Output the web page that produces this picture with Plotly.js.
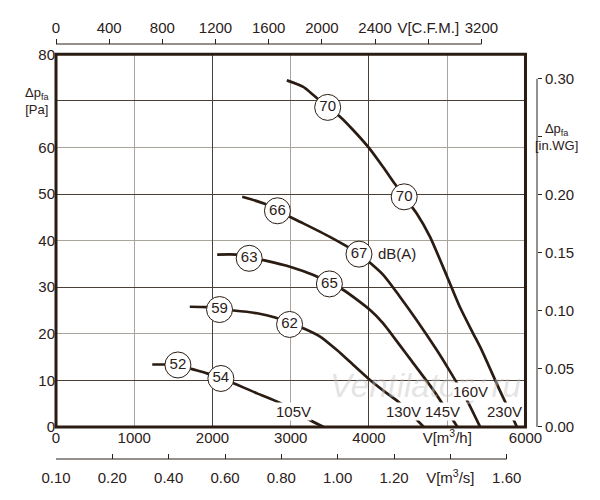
<!DOCTYPE html>
<html>
<head>
<meta charset="utf-8">
<script src="https://cdn.plot.ly/plotly-3.0.1.min.js"></script>
<style>html,body{margin:0;padding:0;background:#fff;}#chart{width:600px;height:500px;}</style>
</head>
<body>
<div id="chart"></div>
<script>
// ---- data (flow in m³/h, pressure in Pa) ----
const c105x = [1230, 1400, 1560, 1740, 1930, 2110, 2270, 2570, 2870, 3230, 3420];
const c105y = [13.4, 13.4, 13.3, 12.4, 11.5, 10.4, 9.4, 7.2, 5.1, 1.6, 0];
const c130x = [1710, 1930, 2090, 2270, 2570, 2800, 3160, 3375, 3590, 3800, 4005, 4230, 4375, 4700];
const c130y = [25.8, 25.7, 25.2, 25.0, 24.4, 23.5, 21.2, 19.4, 16.5, 13.3, 10.2, 7.2, 5.4, 0];
const c145x = [2060, 2310, 2650, 2990, 3290, 3673, 4014, 4184, 4400, 4525, 4823, 5130];
const c145y = [37.0, 37.0, 35.8, 34.4, 32.6, 29.4, 25.1, 22.2, 17.4, 14.6, 7.9, 0];
const c160x = [2380, 2650, 2830, 3160, 3500, 3877, 4184, 4397, 4610, 4866, 5000, 5100, 5250, 5420];
const c160y = [49.4, 48.0, 46.4, 43.7, 40.8, 37.1, 32.6, 27.9, 22.9, 16.5, 12.9, 10.1, 5.8, 0];
const c230x = [2950, 3160, 3470, 3630, 3800, 4000, 4180, 4330, 4450, 4610, 4780, 5000, 5160, 5330, 5440, 5670, 5760, 5890];
const c230y = [74.4, 73.0, 68.6, 66.6, 63.7, 59.9, 55.8, 52.2, 49.4, 45.8, 40.8, 32.2, 25.8, 20.1, 16.5, 7.9, 4.7, 0];

// sound level labels on curves, dB(A)
const dbLabels = ['52', '54', '59', '62', '63', '65', '66', '67', '70', '70'];
const dbX = [1558, 2107, 2090, 2985, 2469, 3494, 2830, 3872, 3472, 4450];
const dbY = [13.3, 10.4, 25.2, 22.0, 36.2, 30.7, 46.4, 37.1, 68.6, 49.4];

// voltage labels
const voltLabels = ['105V', '130V', '145V', '160V', '230V'];
const voltX = [3035, 4435, 4935, 5302, 5728];
const voltY = [3.3, 3.3, 3.3, 7.6, 3.3];

// axis ticks
const flowTicks = [0, 1000, 2000, 3000, 4000, 5000, 6000];
const flowTickText = ['0', '1000', '2000', '3000', '4000', 'V[m<sup>3</sup>/h]', '6000'];
const flowDarkGrid = [2000, 4000];
const paTicks = [0, 10, 20, 30, 40, 50, 60, 70, 80];
const paTickText = ['0', '10', '20', '30', '40', '50', '60', '', '80'];
const paDarkGrid = [10, 30, 50, 70];
const cfmTicks = [0, 400, 800, 1200, 1600, 2000, 2400, 2800, 3200];
const cfmTickText = ['0', '400', '800', '1200', '1600', '2000', '2400', 'V[C.F.M.]', '3200'];
const m3sTicks = [0, 0.2, 0.4, 0.6, 0.8, 1.0, 1.2, 1.4, 1.6];
const m3sTickText = ['0.10', '0.20', '0.40', '0.60', '0.80', '1.00', '1.20', 'V[m<sup>3</sup>/s]', '1.60'];
const wgTicks = [0, 0.05, 0.10, 0.15, 0.20, 0.25, 0.30];
const wgTickText = ['0.00', '0.05', '0.10', '0.15', '0.20', '', '0.30'];

// unit conversions for the secondary scales
const M3H_PER_CFM = 1.699;
const M3H_PER_M3S = 3600;
const PA_PER_INWG = 249.09;

// ---- styling ----
const INK = '#2b2019';
const LINE = '#2a1c12';
const GRID_LIGHT = '#a9a49c';
const GRID_DARK = '#4a3f36';
const FONT = 'Liberation Sans, Arial, sans-serif';
const FS = 15;
const XMAX = 6000, YMAX = 80;

function curve(x, y) {
  return {x: x, y: y, mode: 'lines', type: 'scatter',
    line: {color: LINE, width: 2.7, shape: 'spline', smoothing: 0.6},
    hoverinfo: 'skip', showlegend: false};
}
function dummy(xa, ya) {
  return {x: [null], y: [null], mode: 'markers', type: 'scatter', xaxis: xa, yaxis: ya, hoverinfo: 'skip', showlegend: false};
}

const traces = [
  curve(c105x, c105y), curve(c130x, c130y), curve(c145x, c145y), curve(c160x, c160y), curve(c230x, c230y),
  {x: dbX, y: dbY, text: dbLabels, mode: 'markers+text', type: 'scatter',
   marker: {size: 26, color: '#ffffff', line: {color: LINE, width: 1}},
   textposition: 'middle center', textfont: {family: FONT, size: FS, color: INK},
   hoverinfo: 'skip', showlegend: false, cliponaxis: false},
  dummy('x2', 'y'), dummy('x3', 'y'), dummy('x4', 'y'), dummy('x', 'y2'), dummy('x', 'y4')
];

const XD = [0, 0.9134];
const YD = [0.0773, 0.9752];

const annotations = [{x: 0.718, y: 0.178, xref: 'paper', yref: 'paper', text: '<i>Ventilatory.ru</i>',
  xanchor: 'center', yanchor: 'middle',
  showarrow: false, font: {family: FONT, size: 33, color: 'rgba(195,195,195,0.45)'}}];
voltLabels.forEach((t, i) => annotations.push({
  x: voltX[i], y: voltY[i], xref: 'x', yref: 'y', text: t, showarrow: false,
  xanchor: 'center', yanchor: 'middle',
  bgcolor: '#ffffff', borderpad: 0, font: {family: FONT, size: FS, color: INK}
}));
annotations.push({x: 4355, y: 37.2, xref: 'x', yref: 'y', text: 'dB(A)', showarrow: false,
  xanchor: 'center', yanchor: 'middle', font: {family: FONT, size: FS, color: INK}});
annotations.push({x: -0.037, y: 0.8627, xref: 'paper', yref: 'paper', text: 'Δp<sub>fa</sub><br>[Pa]',
  xanchor: 'center', yanchor: 'middle',
  showarrow: false, font: {family: FONT, size: 13, color: INK}, align: 'center'});
annotations.push({x: 0.9747, y: 0.776, xref: 'paper', yref: 'paper', text: 'Δp<sub>fa</sub><br>[in.WG]',
  xanchor: 'center', yanchor: 'middle',
  showarrow: false, font: {family: FONT, size: 13, color: INK}, align: 'center'});

const layout = {
  width: 600, height: 500,
  margin: {l: 56, r: 30, t: 44, b: 41, pad: 0},
  paper_bgcolor: '#ffffff', plot_bgcolor: '#ffffff',
  font: {family: FONT, size: FS, color: INK},
  showlegend: false,
  xaxis: {domain: XD, range: [0, XMAX], anchor: 'y', tickmode: 'array', tickvals: flowTicks, ticktext: flowTickText,
    showgrid: true, gridcolor: GRID_LIGHT, gridwidth: 1, zeroline: false, showline: false, ticks: '',
    tickfont: {size: FS, color: INK}, fixedrange: true},
  xaxis4: {overlaying: 'x', range: [0, XMAX], anchor: 'y', tickmode: 'array', tickvals: flowDarkGrid,
    showgrid: true, gridcolor: GRID_DARK, gridwidth: 1, showticklabels: false, ticks: '', zeroline: false, showline: false},
  yaxis: {domain: YD, range: [0, YMAX], anchor: 'x', tickmode: 'array', tickvals: paTicks, ticktext: paTickText,
    showgrid: true, gridcolor: GRID_LIGHT, gridwidth: 1, zeroline: false, showline: false, ticks: '',
    tickfont: {size: FS, color: INK}, fixedrange: true},
  yaxis4: {overlaying: 'y', range: [0, YMAX], anchor: 'x', tickmode: 'array', tickvals: paDarkGrid,
    showgrid: true, gridcolor: GRID_DARK, gridwidth: 1, showticklabels: false, ticks: '', zeroline: false, showline: false},
  xaxis2: {overlaying: 'x', range: [0, XMAX / M3H_PER_CFM], anchor: 'free', position: 1, side: 'top',
    tickmode: 'array', tickvals: cfmTicks, ticktext: cfmTickText, showgrid: false, zeroline: false,
    showline: false, ticks: 'outside', ticklen: 5, tickcolor: INK, tickwidth: 1,
    tickfont: {size: FS, color: INK}},
  xaxis3: {overlaying: 'x', range: [0, XMAX / M3H_PER_M3S], anchor: 'free', position: 0, side: 'bottom',
    tickmode: 'array', tickvals: m3sTicks, ticktext: m3sTickText, showgrid: false, zeroline: false,
    showline: false, ticks: 'inside', ticklen: 5, tickcolor: INK, tickwidth: 1,
    tickfont: {size: FS, color: INK}, ticklabelstandoff: 8},
  yaxis2: {overlaying: 'y', range: [0, YMAX / PA_PER_INWG], anchor: 'free', position: 0.9358, side: 'right',
    tickmode: 'array', tickvals: wgTicks, ticktext: wgTickText, showgrid: false, zeroline: false,
    showline: false, ticks: 'outside', ticklen: 4, tickcolor: INK, tickwidth: 1,
    tickfont: {size: FS, color: INK}},
  shapes: [
    {type: 'rect', xref: 'x domain', yref: 'y domain', x0: 0, x1: 1, y0: 0, y1: 1,
     line: {color: LINE, width: 3}, fillcolor: 'rgba(0,0,0,0)', layer: 'above'},
    {type: 'line', xref: 'x2', yref: 'paper', x0: cfmTicks[0], x1: cfmTicks[cfmTicks.length - 1], y0: 1, y1: 1,
     line: {color: INK, width: 1}},
    {type: 'line', xref: 'x3', yref: 'paper', x0: m3sTicks[0], x1: m3sTicks[m3sTicks.length - 1], y0: 0, y1: 0,
     line: {color: INK, width: 1}},
    {type: 'line', xref: 'paper', yref: 'y2', x0: 0.9358, x1: 0.9358, y0: wgTicks[0], y1: wgTicks[wgTicks.length - 1],
     line: {color: INK, width: 1}}
  ],
  annotations: annotations
};

Plotly.newPlot('chart', traces, layout, {staticPlot: true, displayModeBar: false});
</script>
</body>
</html>
